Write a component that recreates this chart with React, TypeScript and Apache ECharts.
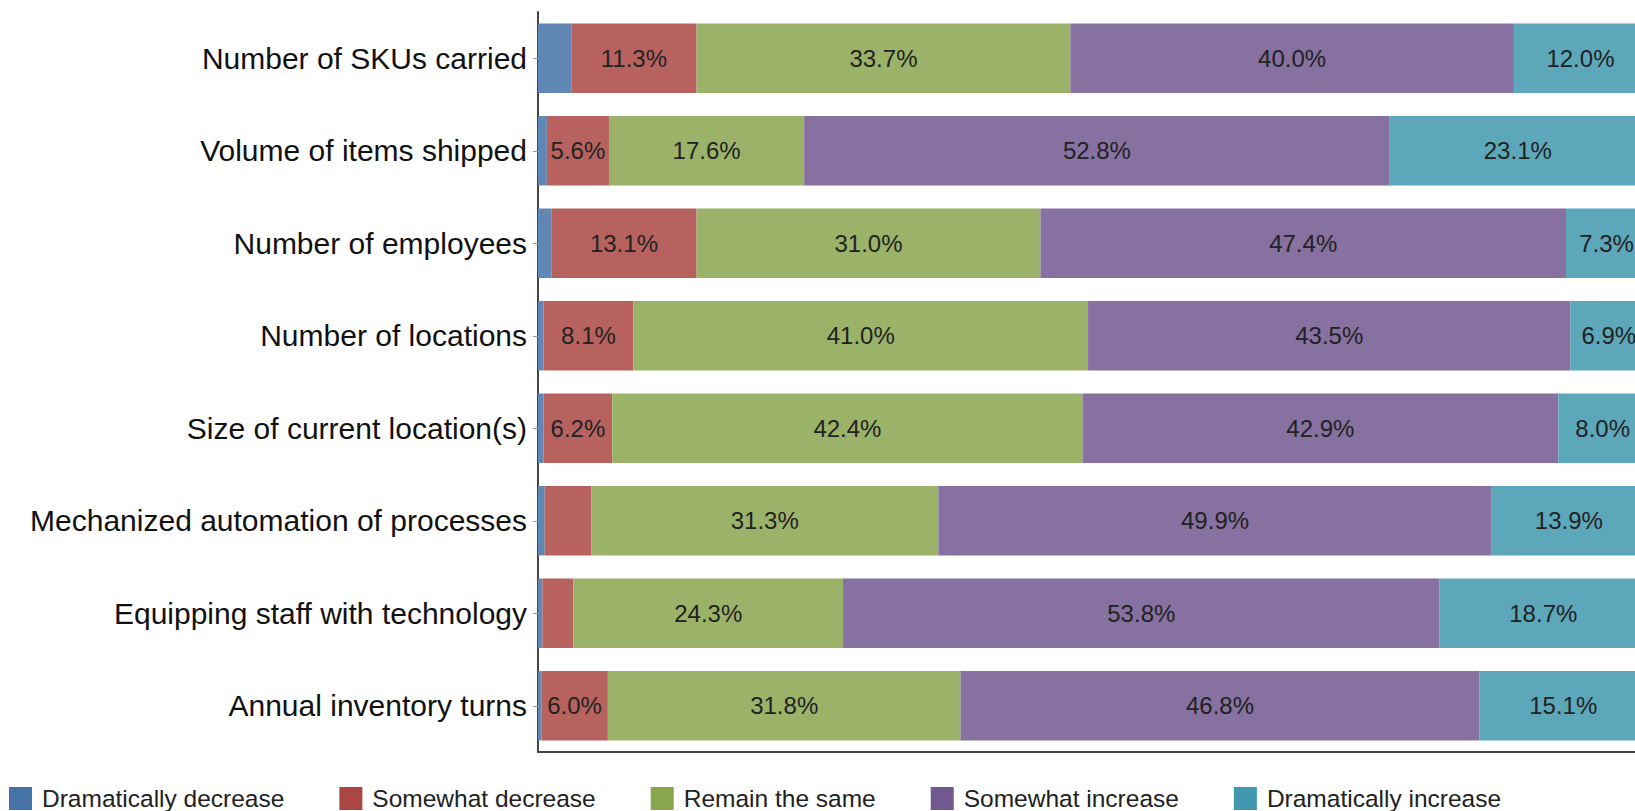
import React, { useEffect, useRef } from "react";
import * as echarts from "echarts";

const categories = [
  "Number of SKUs carried",
  "Volume of items shipped",
  "Number of employees",
  "Number of locations",
  "Size of current location(s)",
  "Mechanized automation of processes",
  "Equipping staff with technology",
  "Annual inventory turns",
];

const seriesNames = [
  "Dramatically decrease",
  "Somewhat decrease",
  "Remain the same",
  "Somewhat increase",
  "Dramatically increase",
];

const dramaticallyDecrease = [3.0, 0.8, 1.2, 0.5, 0.5, 0.6, 0.4, 0.3];
const somewhatDecrease = [11.3, 5.6, 13.1, 8.1, 6.2, 4.2, 2.8, 6.0];
const remainTheSame = [33.7, 17.6, 31.0, 41.0, 42.4, 31.3, 24.3, 31.8];
const somewhatIncrease = [40.0, 52.8, 47.4, 43.5, 42.9, 49.9, 53.8, 46.8];
const dramaticallyIncrease = [12.0, 23.1, 7.3, 6.9, 8.0, 13.9, 18.7, 15.1];

const barColors = ["#6187B4", "#B7625F", "#9BB369", "#8671A0", "#5DA7BB"];
const legendColors = ["#4572A7", "#AA4643", "#89A54E", "#71588F", "#4198AF"];

const FONT = "'Liberation Sans', Arial, sans-serif";

export default function App() {
  const ref = useRef<HTMLDivElement>(null);

  useEffect(() => {
    if (!ref.current) return;
    const chart = echarts.init(ref.current, null, { renderer: "svg" });
    const values = [
      dramaticallyDecrease,
      somewhatDecrease,
      remainTheSame,
      somewhatIncrease,
      dramaticallyIncrease,
    ];
    chart.setOption({
      animation: false,
      backgroundColor: "#ffffff",
      grid: { left: 538, top: 12, width: 1109, height: 740, containLabel: false },
      legend: {
        left: 9,
        top: 786,
        padding: 0,
        itemWidth: 23,
        itemHeight: 23,
        itemGap: 55,
        icon: "rect",
        selectedMode: false,
        textStyle: {
          fontFamily: FONT,
          fontSize: 24.5,
          lineHeight: 25,
          color: "#222",
          padding: [0, 0, 0, 5],
        },
        data: seriesNames.map((n, i) => ({
          name: n,
          itemStyle: { color: legendColors[i] },
        })),
      },
      xAxis: {
        type: "value",
        min: 0,
        max: 100,
        axisLine: { show: true, lineStyle: { color: "#444", width: 2 } },
        axisTick: { show: false },
        axisLabel: { show: false },
        splitLine: { show: false },
      },
      yAxis: {
        type: "category",
        inverse: true,
        data: categories,
        axisLine: { show: true, lineStyle: { color: "#444", width: 2 } },
        axisTick: {
          show: true,
          alignWithLabel: true,
          length: 5,
          lineStyle: { color: "#999", width: 1 },
        },
        axisLabel: {
          fontFamily: FONT,
          fontSize: 30,
          color: "#111",
          margin: 11,
        },
      },
      series: seriesNames.map((name, i) => ({
        name,
        type: "bar",
        stack: "total",
        barCategoryGap: "25%",
        data: values[i],
        itemStyle: { color: barColors[i] },
        label: {
          show: true,
          position: "inside",
          fontFamily: FONT,
          fontSize: 24,
          color: "#222",
          formatter: (p: any) => (p.value >= 5 ? p.value.toFixed(1) + "%" : ""),
        },
        emphasis: { disabled: true },
      })),
    });
    return () => chart.dispose();
  }, []);

  return (
    <div
      style={{
        position: "absolute",
        left: 0,
        top: 0,
        width: 1635,
        height: 811,
        overflow: "hidden",
        background: "#fff",
      }}
    >
      <div ref={ref} style={{ width: 1700, height: 811 }} />
    </div>
  );
}
